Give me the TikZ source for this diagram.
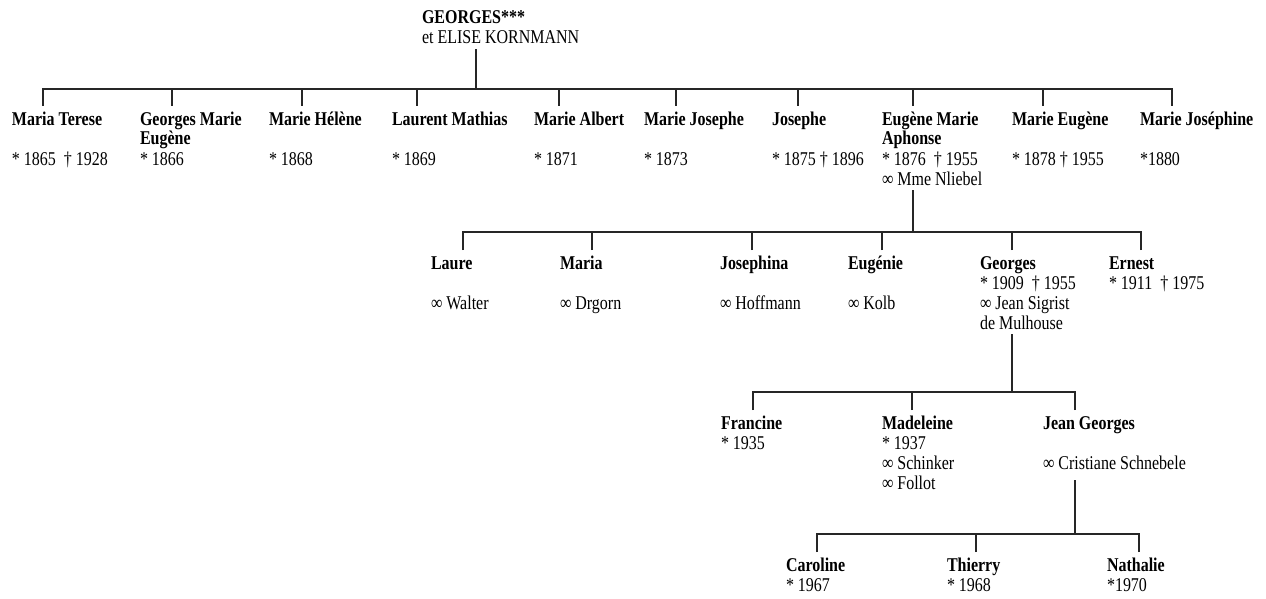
\documentclass[tikz,border=0pt]{standalone}
\usepackage{fontspec}
\setmainfont{Liberation Serif}[FakeStretch=0.82]
\newcommand{\pname}[1]{\rule{0pt}{14pt}\textbf{#1}}

\begin{document}
\begin{tikzpicture}[x=1pt,y=-1pt]
            \tikzstyle{person}=[anchor=north west,align=left,inner sep=0pt,outer xsep=0pt,outer ysep=5pt,font=\fontsize{19.5}{20}\selectfont]
            \tikzstyle{link}=[draw=black!85,line width=1.1pt]
            \useasboundingbox[fill=white] (0,0) rectangle (1266,599);

            \node[person] (root) at (422,5) {\pname{GEORGES***}\\et ELISE KORNMANN};

            \coordinate (j1) at (476,89);
            \coordinate (j2) at (913,232);
            \coordinate (j3) at (1012,392);
            \coordinate (j4) at (1075,534);

            \node[person] (mt) at (12,106) {\pname{Maria Terese}\\[20pt]* 1865\ \ † 1928};
            \node[person] (gme) at (140,106) {\pname{Georges Marie}\\\textbf{Eugène}\\* 1866};
            \node[person] (mh) at (269,106) {\pname{Marie Hélène}\\[20pt]* 1868};
            \node[person] (lm) at (392,106) {\pname{Laurent Mathias}\\[20pt]* 1869};
            \node[person] (ma) at (534,106) {\pname{Marie Albert}\\[20pt]* 1871};
            \node[person] (mj) at (644,106) {\pname{Marie Josephe}\\[20pt]* 1873};
            \node[person] (jo) at (772,106) {\pname{Josephe}\\[20pt]* 1875 † 1896};
            \node[person] (ema) at (882,106) {\pname{Eugène Marie}\\\textbf{Aphonse}\\* 1876\ \ † 1955\\∞ Mme Nliebel};
            \node[person] (me) at (1012,106) {\pname{Marie Eugène}\\[20pt]* 1878 † 1955};
            \node[person] (mjo) at (1140,106) {\pname{Marie Joséphine}\\[20pt]*1880};

            \node[person] (la) at (431,250) {\pname{Laure}\\[20pt]∞ Walter};
            \node[person] (mr) at (560,250) {\pname{Maria}\\[20pt]∞ Drgorn};
            \node[person] (jp) at (720,250) {\pname{Josephina}\\[20pt]∞ Hoffmann};
            \node[person] (eu) at (848,250) {\pname{Eugénie}\\[20pt]∞ Kolb};
            \node[person] (ge) at (980,250) {\pname{Georges}\\* 1909\ \ † 1955\\∞ Jean Sigrist\\de Mulhouse};
            \node[person] (er) at (1109,250) {\pname{Ernest}\\* 1911\ \ † 1975};

            \node[person] (fr) at (721,410) {\pname{Francine}\\* 1935};
            \node[person] (md) at (882,410) {\pname{Madeleine}\\* 1937\\∞ Schinker\\∞ Follot};
            \node[person] (jg) at (1043,410) {\pname{Jean Georges}\\[20pt]∞ Cristiane Schnebele};

            \node[person] (ca) at (786,552) {\pname{Caroline}\\* 1967};
            \node[person] (th) at (947,552) {\pname{Thierry}\\* 1968};
            \node[person] (na) at (1107,552) {\pname{Nathalie}\\*1970};

            \draw[link] (root.south -| j1) -- (j1);
            \draw[link] ([xshift=31pt]mt.north west) |- (j1);
            \draw[link] ([xshift=32pt]gme.north west) |- (j1);
            \draw[link] ([xshift=33pt]mh.north west) |- (j1);
            \draw[link] ([xshift=25pt]lm.north west) |- (j1);
            \draw[link] ([xshift=25pt]ma.north west) |- (j1);
            \draw[link] ([xshift=32pt]mj.north west) |- (j1);
            \draw[link] ([xshift=26pt]jo.north west) |- (j1);
            \draw[link] ([xshift=31pt]ema.north west) |- (j1);
            \draw[link] ([xshift=31pt]me.north west) |- (j1);
            \draw[link] ([xshift=32pt]mjo.north west) |- (j1);

            \draw[link] (ema.south -| j2) -- (j2);
            \draw[link] ([xshift=32pt]la.north west) |- (j2);
            \draw[link] ([xshift=32pt]mr.north west) |- (j2);
            \draw[link] ([xshift=32pt]jp.north west) |- (j2);
            \draw[link] ([xshift=34pt]eu.north west) |- (j2);
            \draw[link] ([xshift=32pt]ge.north west) |- (j2);
            \draw[link] ([xshift=32pt]er.north west) |- (j2);

            \draw[link] (ge.south -| j3) -- (j3);
            \draw[link] ([xshift=32pt]fr.north west) |- (j3);
            \draw[link] ([xshift=30pt]md.north west) |- (j3);
            \draw[link] ([xshift=32pt]jg.north west) |- (j3);

            \draw[link] ([yshift=-6pt]jg.south -| j4) -- (j4);
            \draw[link] ([xshift=31pt]ca.north west) |- (j4);
            \draw[link] ([xshift=29pt]th.north west) |- (j4);
            \draw[link] ([xshift=32pt]na.north west) |- (j4);
        \end{tikzpicture}
\end{document}
